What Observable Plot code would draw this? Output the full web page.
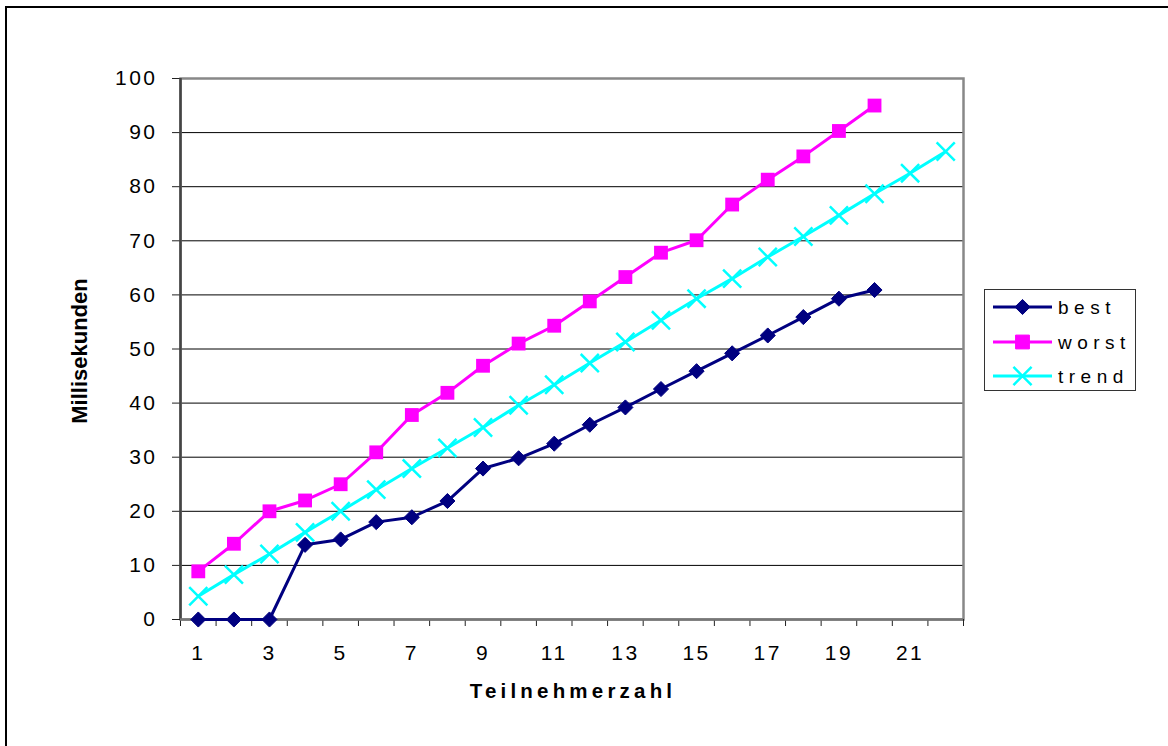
<!DOCTYPE html>
<html>
<head>
<meta charset="utf-8">
<script src="https://cdn.jsdelivr.net/npm/d3@7"></script>
<script src="https://cdn.jsdelivr.net/npm/@observablehq/plot@0.6"></script>
<style>
  html, body { margin: 0; padding: 0; background: #fff; }
  #wrap { position: relative; width: 1168px; height: 746px; overflow: hidden; background: #fff; }
  #wrap > svg { position: absolute; left: 0; top: 0; }
  svg.chart text { letter-spacing: 2.5px; }
  #border { position: absolute; left: 5px; top: 6px; width: 1300px; height: 900px; border: 2px solid #000; box-sizing: border-box; pointer-events: none; }
  #legend { position: absolute; left: 984px; top: 289px; width: 152px; height: 102px; border: 1.5px solid #333; box-sizing: border-box; background: #fff; }
  #legend svg { position: absolute; left: 0; top: 0; }
</style>
</head>
<body>
<div id="wrap"></div>
<script>
// ---- data ----
const categories = [1,2,3,4,5,6,7,8,9,10,11,12,13,14,15,16,17,18,19,20,21,22];
const best  = [0,0,0,13.8,14.8,18.0,18.9,21.9,27.9,29.8,32.5,36.0,39.2,42.6,45.9,49.2,52.5,55.9,59.3,60.9];
const worst = [8.9,14.0,20.0,22.0,25.0,30.9,37.8,41.9,46.9,51.0,54.3,58.8,63.3,67.8,70.1,76.7,81.3,85.6,90.3,95.0];
const trend = [4.3,8.3,12.1,16.1,20.0,24.0,27.9,31.7,35.5,39.6,43.4,47.4,51.3,55.3,59.3,63.0,67.0,70.8,74.7,78.7,82.5,86.5];
const seriesNames = ["best", "worst", "trend"];
const seriesColors = ["#000080", "#FF00FF", "#00FFFF"];
const xTickLabels = [1,3,5,7,9,11,13,15,17,19,21];
const yTicks = [0,10,20,30,40,50,60,70,80,90,100];
const xTitle = "Teilnehmerzahl";
const yTitle = "Millisekunden";

// ---- table ----
const seriesValues = [best, worst, trend];
const rows = [];
seriesNames.forEach((s, k) => {
  seriesValues[k].forEach((v, i) => rows.push({series: s, x: categories[i], y: v}));
});
const xBounds = [categories[0] - 0.5, ...categories.map(c => c + 0.5)];

const W = 1168, H = 746;
const font = "'Liberation Sans', Arial, sans-serif";
const bySeries = s => rows.filter(d => d.series === s);

const chart = Plot.plot({
  width: W, height: H,
  marginLeft: 180, marginRight: 205, marginTop: 78, marginBottom: 127,
  className: "chart",
  style: {background: "transparent", fontFamily: font, color: "#000"},
  x: {type: "linear", domain: [xBounds[0], xBounds[xBounds.length - 1]]},
  y: {domain: [0, 100]},
  color: {domain: seriesNames, range: seriesColors},
  marks: [
    Plot.ruleY(yTicks.slice(1, -1), {stroke: "#000", strokeWidth: 1}),
    Plot.frame({stroke: "#888", strokeWidth: 2.5}),
    Plot.axisY(yTicks, {tickSize: 8, tickPadding: 15, fontSize: 21, stroke: "#222", label: null, fill: "#000"}),
    Plot.axisX(xBounds, {tickSize: 7, tickFormat: () => "", stroke: "#222", label: null}),
    Plot.axisX(xTickLabels, {tickSize: 0, tickPadding: 26, fontSize: 21, label: null, fill: "#000"}),
    Plot.ruleX([xBounds[0]], {stroke: "#444", strokeWidth: 2.5}),
    Plot.ruleY([0], {stroke: "#777", strokeWidth: 2.5}),
    Plot.line(rows, {x: "x", y: "y", z: "series", stroke: "series", strokeWidth: 3}),
    Plot.dot(bySeries("best"), {x: "x", y: "y", symbol: "diamond2", r: 6.8, fill: seriesColors[0], stroke: seriesColors[0], strokeWidth: 1}),
    Plot.dot(bySeries("worst"), {x: "x", y: "y", symbol: "square", r: 7.8, fill: seriesColors[1], stroke: "none"}),
    Plot.dot(bySeries("trend"), {x: "x", y: "y", symbol: "times", r: 8.3, fill: "none", stroke: seriesColors[2], strokeWidth: 2.5})
  ]
});

const wrap = document.getElementById("wrap");
wrap.appendChild(chart);

// ---- axis titles ----
const ov = d3.select(wrap).append("svg").attr("width", W).attr("height", H).style("pointer-events", "none");
ov.append("text")
  .attr("x", 573).attr("y", 698)
  .attr("text-anchor", "middle")
  .attr("font-family", font).attr("font-weight", "bold").attr("font-size", 20.5)
  .attr("letter-spacing", "4.2px")
  .text(xTitle);
ov.append("text")
  .attr("transform", "translate(87,351) rotate(-90)")
  .attr("text-anchor", "middle")
  .attr("font-family", font).attr("font-weight", "bold").attr("font-size", 22)
  .text(yTitle);

// ---- legend ----
const leg = d3.select(wrap).append("div").attr("id", "legend");
const lsvg = leg.append("svg").attr("width", 152).attr("height", 102);
const symDefs = [
  {type: d3.symbolDiamond2, size: Math.PI * 6.8 * 6.8, fill: true},
  {type: d3.symbolSquare, size: Math.PI * 7.8 * 7.8, fill: true},
  {type: d3.symbolTimes, size: Math.PI * 8.3 * 8.3, fill: false}
];
const rowY = [17, 52, 86];
seriesNames.forEach((s, k) => {
  const g = lsvg.append("g").attr("transform", `translate(0,${rowY[k]})`);
  g.append("line").attr("x1", 8).attr("x2", 67).attr("y1", 0).attr("y2", 0)
    .attr("stroke", seriesColors[k]).attr("stroke-width", 3);
  g.append("path").attr("transform", "translate(37.5,0)")
    .attr("d", d3.symbol(symDefs[k].type, symDefs[k].size)())
    .attr("fill", symDefs[k].fill ? seriesColors[k] : "none")
    .attr("stroke", seriesColors[k]).attr("stroke-width", symDefs[k].fill ? 1 : 2.5);
  g.append("text").attr("x", 73).attr("y", 0).attr("dy", "0.36em")
    .attr("font-family", font).attr("font-size", 19).attr("letter-spacing", "5.5px")
    .attr("fill", "#000")
    .text(s);
});

// ---- outer border ----
d3.select(wrap).append("div").attr("id", "border");
</script>
</body>
</html>
